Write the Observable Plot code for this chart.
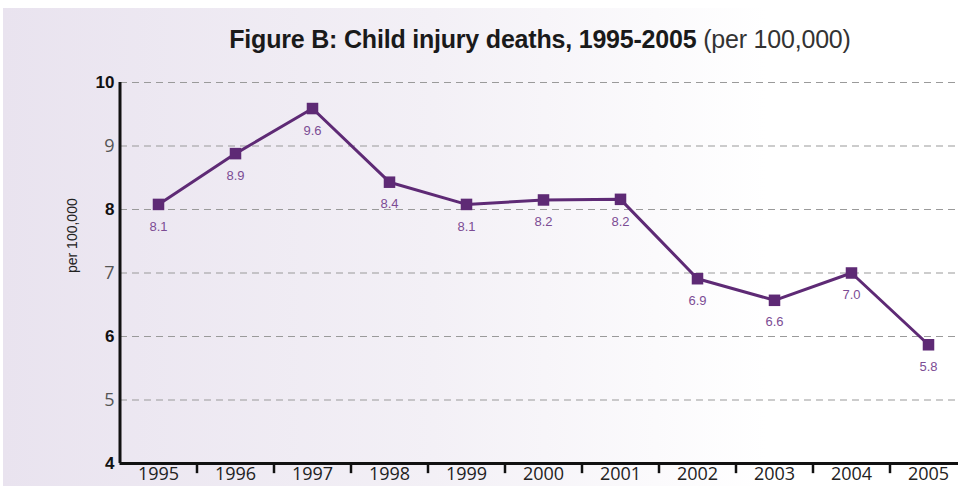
<!DOCTYPE html>
<html>
<head>
<meta charset="utf-8">
<script src="https://cdn.jsdelivr.net/npm/d3@7"></script>
<script src="https://cdn.jsdelivr.net/npm/@observablehq/plot@0.6"></script>
<style>
  html, body { margin: 0; padding: 0; background: #ffffff; overflow: hidden; }
  #wrap {
    position: absolute; left: 3px; top: 8px; width: 955px; height: 478px;
    background: linear-gradient(to right, #e9e3ef 0%, #f3f0f6 45%, #ffffff 80%);
  }
  #title {
    position: absolute; left: 120px; top: 24px; width: 840px; text-align: center;
    font-family: "Liberation Sans", Arial, sans-serif;
    font-size: 25px; color: #1a1a1a; line-height: 30px; letter-spacing: -0.2px;
  }
  #title b { font-weight: bold; }
  #title span { font-weight: normal; color: #333; }
  #chart { position: absolute; left: 0; top: 62px; }
</style>
</head>
<body>
<div id="wrap"></div>
<div id="title"><b>Figure B: Child injury deaths, 1995-2005</b> <span>(per 100,000)</span></div>
<div id="chart"></div>
<script>
const years = [1995, 1996, 1997, 1998, 1999, 2000, 2001, 2002, 2003, 2004, 2005];
const values = [8.08, 8.88, 9.59, 8.43, 8.08, 8.15, 8.16, 6.91, 6.57, 7.0, 5.87];
const valueLabels = ["8.1", "8.9", "9.6", "8.4", "8.1", "8.2", "8.2", "6.9", "6.6", "7.0", "5.8"];
const yTicks = [4, 5, 6, 7, 8, 9, 10];
const gridTicks = [5, 6, 7, 8, 9, 10];
const yLabel = "per 100,000";

const data = years.map((yr, i) => ({year: yr, value: values[i], label: valueLabels[i]}));
const boundaries = years.slice(0, -1).map(y => y + 0.5);
const evenTicks = yTicks.filter(t => t % 2 === 0);
const oddTicks = yTicks.filter(t => t % 2 === 1);

const purple = "#5e2a75";
const labelPurple = "#7c4c94";

const plot = Plot.plot({
  width: 958,
  height: 424,
  marginTop: 20,
  marginBottom: 23,
  marginLeft: 120,
  marginRight: 0,
  style: {background: "transparent", overflow: "visible"},
  x: {domain: [1994.5, 2005.5], range: [119.5, 966.5], axis: null},
  y: {domain: [4, 10], axis: null},
  marks: [
    Plot.ruleY(gridTicks, {stroke: "#9a9a9a", strokeWidth: 1.2, strokeDasharray: "7,5"}),
    Plot.axisY({
      ticks: evenTicks, tickSize: 0, tickPadding: 6, label: null, tickFormat: d => String(d),
      fontSize: 17, fontWeight: "bold", fill: "#111",
      fontFamily: "Liberation Sans, Arial, sans-serif"
    }),
    Plot.axisY({
      ticks: oddTicks, tickSize: 0, tickPadding: 6, label: null, tickFormat: d => String(d),
      fontSize: 18, fill: "#555",
      fontFamily: "Open Sans, Liberation Sans, Arial, sans-serif"
    }),
    Plot.text([yLabel], {
      frameAnchor: "left", rotate: -90, dx: -48,
      fontSize: 14, fill: "#222", fontFamily: "Liberation Sans, Arial, sans-serif"
    }),
    Plot.axisX({
      ticks: years, tickSize: 0, tickPadding: 4, label: null, tickFormat: d => String(d),
      fontSize: 18, fill: "#222", fontFamily: "Open Sans, Liberation Sans, Arial, sans-serif"
    }),
    Plot.ruleX(boundaries, {x: d => d, y1: 4, y2: 3.84, stroke: "#111", strokeWidth: 2.5, clip: false}),
    Plot.ruleX([1994.5], {y1: 4, y2: 10, stroke: "#111", strokeWidth: 3}),
    Plot.ruleY([4], {x1: 1994.5, x2: 2005.5, stroke: "#111", strokeWidth: 3}),
    Plot.line(data, {x: "year", y: "value", stroke: purple, strokeWidth: 3}),
    Plot.dot(data, {x: "year", y: "value", symbol: "square", r: 6.5, fill: purple, stroke: "none"}),
    Plot.text(data, {
      x: "year", y: "value", text: "label", dy: 22,
      fill: labelPurple, fontSize: 13, fontFamily: "Liberation Sans, Arial, sans-serif"
    })
  ]
});
document.getElementById("chart").appendChild(plot);
</script>
</body>
</html>
